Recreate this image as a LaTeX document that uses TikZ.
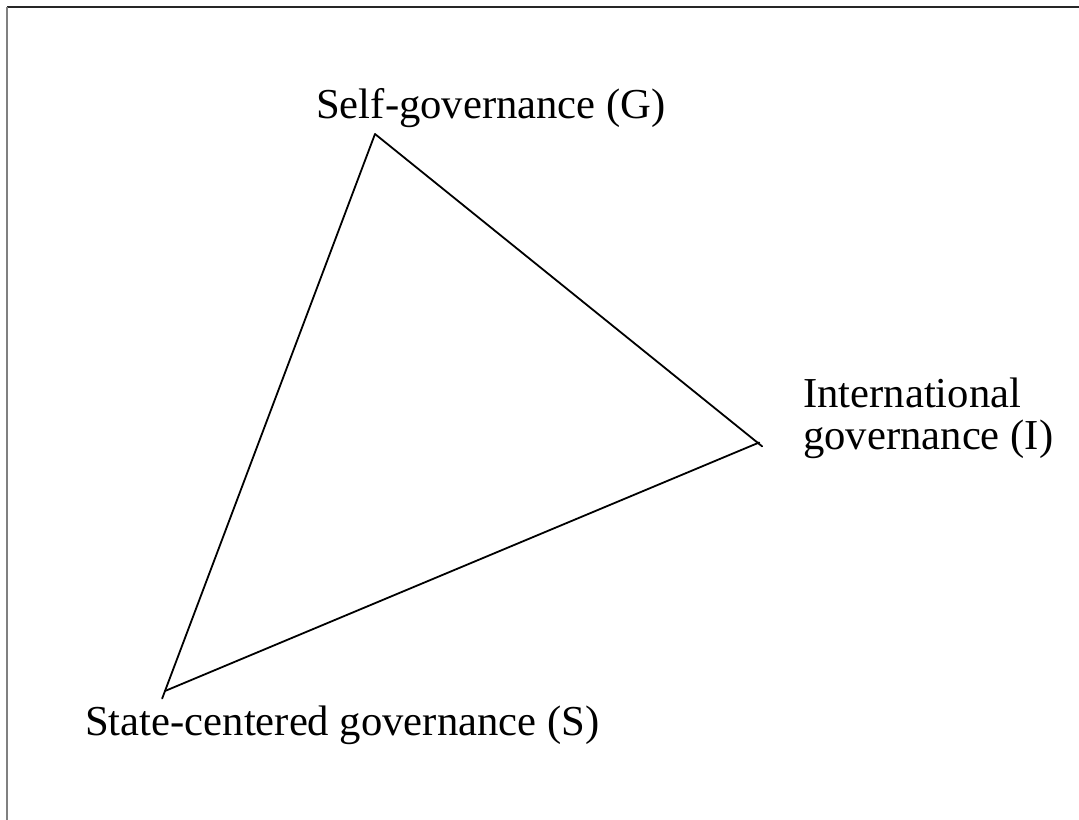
\documentclass[tikz,border=0pt]{standalone}
\usepackage{fontspec}
\setmainfont{Liberation Serif}
\usepackage{tikz}
\usetikzlibrary{positioning,calc}
\tikzset{
    rotulo/.style={
        inner sep=0pt,
        align=left,
        font=\fontsize{32}{31.5}\selectfont
    },
    lado/.style={line width=1.35pt, line cap=round},
    moldura/.style={line width=1.3pt}
}

\begin{document}
\begin{tikzpicture}[x=0.75pt,y=-0.75pt]
        \useasboundingbox (0,0) rectangle (1079,820);

        % frame lines
        \draw[moldura, black!85] (7,7) -- (1079,7);
        \draw[moldura, black!50] (7,7) -- (7,820);

        % vertices
        \coordinate (G) at (375,134);
        \coordinate (I) at (758,443);
        \coordinate (S) at (165,691);

        \node[rotulo, anchor=base] (lblG) at (491,119)
        {Self-governance (G)};

        % base anchor sits on the last line here
        \node[rotulo, anchor=base west] (lblI) at (803,449)
        {International\\governance (I)};

        \node[rotulo, anchor=base west] (lblS) at (85,735)
        {State-centered governance (S)};

        \draw[lado, shorten >=-4pt] (G) -- (I);
        \draw[lado, shorten <=-1pt] (I) -- (S);
        \draw[lado, shorten <=-6pt] (S) -- (G);

    \end{tikzpicture}
\end{document}
